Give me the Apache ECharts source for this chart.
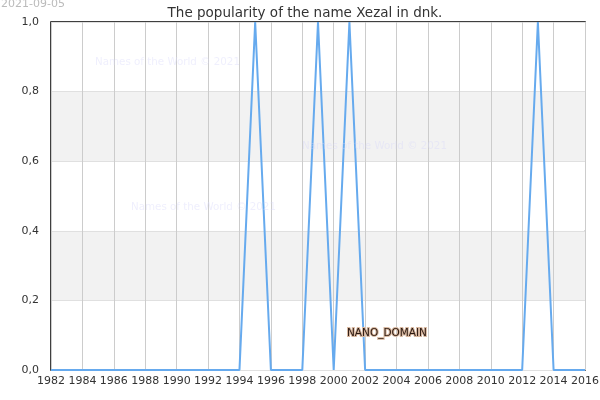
<!DOCTYPE html>
<html>
<head>
<meta charset="utf-8">
<script src="https://cdn.jsdelivr.net/npm/echarts@6/dist/echarts.min.js"></script>
<style>
  html, body { margin: 0; padding: 0; background: #fff; }
  #chart { width: 600px; height: 400px; }
</style>
</head>
<body>
<div id="chart"></div>
<script>
// years and popularity values
const years = [1982, 1983, 1984, 1985, 1986, 1987, 1988, 1989, 1990, 1991, 1992, 1993, 1994, 1995, 1996, 1997, 1998, 1999,
  2000, 2001, 2002, 2003, 2004, 2005, 2006, 2007, 2008, 2009, 2010, 2011, 2012, 2013, 2014, 2015, 2016]
const popularity = [0, 0, 0, 0, 0, 0, 0, 0, 0, 0, 0, 0, 0, 1, 0, 0, 0, 1,
  0, 1, 0, 0, 0, 0, 0, 0, 0, 0, 0, 0, 0, 1, 0, 0, 0]
const yTicks = [0, 0.2, 0.4, 0.6, 0.8, 1.0]

const chart = echarts.init(document.getElementById('chart'))
const font = 'DejaVu Sans'
const watermark = 'Names of the World © 2021'
const wmStyle = { fill: 'rgba(215,215,250,0.4)', font: '10.3px "DejaVu Sans"' }

const option = {
  animation: false,
  textStyle: { fontFamily: font },
  title: {
    text: 'The popularity of the name Xezal in dnk.',
    left: 300,
    textAlign: 'center',
    top: 1,
    textStyle: { fontFamily: font, fontSize: 13.5, fontWeight: 'normal', color: '#333' }
  },
  graphic: [
    { type: 'text', z: 100, left: 1, top: -1, style: { text: '2021-09-05', fill: '#bbb', font: '11px "DejaVu Sans"' } },
    { type: 'text', z: 100, left: 95, top: 57, style: Object.assign({ text: watermark }, wmStyle) },
    { type: 'text', z: 100, left: 302, top: 141, style: Object.assign({ text: watermark }, wmStyle) },
    { type: 'text', z: 100, left: 131, top: 202, style: Object.assign({ text: watermark }, wmStyle) },
    {
      type: 'text', z: 100, left: 346, top: 327,
      style: { text: 'NANO_DOMAIN', fill: '#2a1810', stroke: '#d8b8a0', lineWidth: 2, font: '10.5px "DejaVu Sans"' }
    }
  ],
  grid: {
    left: 51, right: 15, top: 22, bottom: 30,
    outerBoundsMode: 'none',
    show: true, borderColor: '#000', borderWidth: 1.5, backgroundColor: 'transparent'
  },
  xAxis: {
    type: 'value',
    min: 1982,
    max: 2016,
    interval: 2,
    axisLine: { show: false },
    axisTick: { show: false },
    axisLabel: { color: '#333', fontSize: 11, fontFamily: font, margin: 6, formatter: v => String(v) },
    splitLine: { show: true, lineStyle: { color: '#ccc', width: 1 } }
  },
  yAxis: {
    type: 'value',
    min: 0,
    max: 1,
    interval: 0.2,
    axisLine: { show: false },
    axisTick: { show: false },
    axisLabel: {
      color: '#333', fontSize: 11, fontFamily: font, margin: 12,
      formatter: v => {
        const t = yTicks.find(k => Math.abs(k - v) < 1e-9)
        return (t !== undefined ? t : v).toFixed(1).replace('.', ',')
      }
    },
    splitLine: { show: true, lineStyle: { color: '#e0e0e0', width: 1 } },
    splitArea: { show: true, areaStyle: { color: ['#fff', '#f2f2f2'] } }
  },
  series: [
    {
      type: 'line',
      data: years.map((y, i) => [y, popularity[i]]),
      showSymbol: false,
      lineStyle: { color: '#66aaee', width: 2 },
      itemStyle: { color: '#66aaee' }
    }
  ]
}
chart.setOption(option)
</script>
</body>
</html>
